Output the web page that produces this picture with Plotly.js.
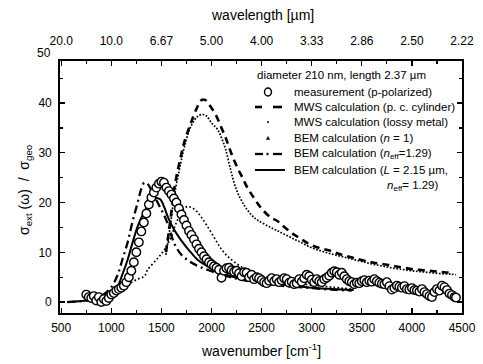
<!DOCTYPE html>
<html><head><meta charset="utf-8">
<script src="https://cdn.plot.ly/plotly-3.0.1.min.js"></script>
<style>html,body{margin:0;padding:0;background:#fff;}#c{width:483px;height:364px;}</style>
</head><body><div id="c"></div>
<script>
// ---- data ----
const measWn = [750,775,800,825,850,875,900,925,950,975,1000,1025,1050,1075,1100,1125,1150,1175,1200,1225,1250,1275,1300,1325,1350,1375,1400,1425,1450,1475,1500,1525,1550,1575,1600,1625,1650,1675,1700,1725,1750,1775,1800,1825,1850,1875,1900,1925,1950,1975,2000,2025,2050,2075,2100,2125,2150,2175,2200,2225,2250,2275,2300,2325,2350,2375,2400,2425,2450,2475,2500,2525,2550,2575,2600,2625,2650,2675,2700,2725,2750,2775,2800,2825,2850,2875,2900,2925,2950,2975,3000,3025,3050,3075,3100,3125,3150,3175,3200,3225,3250,3275,3300,3325,3350,3375,3400,3425,3450,3475,3500,3525,3550,3575,3600,3625,3650,3675,3700,3725,3750,3775,3800,3825,3850,3875,3900,3925,3950,3975,4000,4025,4050,4075,4100,4125,4150,4175,4200,4225,4250,4275,4300,4325,4350,4375,4400,4425,4440];
const measVal = [1.5,1.0,0.8,1.2,0.3,1.0,0.0,0.6,0.2,0.8,1.5,1.8,2.3,2.6,2.9,3.3,4.0,5.0,6.3,8.0,10.0,12.0,14.2,16.0,17.8,19.6,21.0,22.0,23.0,23.8,24.2,24.0,23.0,22.3,21.6,20.8,20.0,18.8,17.6,16.5,15.4,14.3,13.5,12.6,11.6,10.7,10.0,9.2,8.6,8.0,7.6,7.2,6.9,6.5,4.9,6.3,6.8,6.9,6.4,6.1,6.3,5.8,5.2,6.0,5.9,5.0,5.5,4.6,5.0,4.8,4.4,4.0,3.8,4.3,4.8,4.2,4.6,4.0,4.4,4.8,4.6,3.9,4.1,3.6,3.8,4.6,4.1,4.8,5.5,5.2,4.5,4.0,4.6,4.2,4.0,4.6,4.9,5.3,5.9,6.2,6.0,5.5,5.9,5.2,4.6,4.2,4.0,3.6,3.9,3.8,4.2,4.4,4.0,4.3,4.1,4.6,4.2,3.9,3.7,3.6,4.0,3.2,2.5,2.8,3.3,3.1,2.9,3.2,2.6,2.5,2.8,2.4,2.3,2.1,2.6,2.0,1.6,1.2,1.0,2.0,2.6,2.3,3.3,3.0,2.4,1.7,1.4,1.0,0.9];

const mwsPcWn  = [1545,1590,1630,1694,1727,1794,1861,1900,1940,1990,2043,2100,2142,2190,2259,2309,2358,2421,2491,2590,2657,2720,2820,2900,2989,3090,3188,3270,3354,3450,3554,3650,3753,3830,3916,4010,4115,4220,4320,4413];
const mwsPcVal = [10,16.5,23,29.3,32,36,39.3,40.6,40.6,39.3,37.6,35,33,30.3,27,25,23,21,19,17,16.3,15.2,13.6,12.6,11.5,10.8,10.3,9.7,9.2,8.7,8.2,7.8,7.5,7.2,6.9,6.6,6.4,6.2,6.0,5.9];

const mwsLmWn  = [1545,1590,1630,1694,1727,1794,1861,1910,1950,2000,2060,2100,2142,2192,2250,2325,2400,2458,2590,2690,2790,2890,2990,3090,3190,3290,3390,3490,3590,3690,3790,3890,3990,4090,4190,4290,4390,4440];
const mwsLmVal = [9.5,15.5,21.5,28,31,35.3,37.3,37.7,37.4,36,34.7,33,30.6,26.5,22.5,19.5,17.5,16.5,15,14,13,12,11,10.3,9.7,9.2,8.7,8.2,7.7,7.3,6.9,6.6,6.3,6.1,5.9,5.7,5.6,5.5];

const bemN1Wn  = [560,700,800,900,1000,1100,1164,1250,1330,1363,1463,1529,1595,1630,1661,1700,1740,1761,1800,1850,1893,1950,2026,2093,2160,2259,2350,2450,2550,2700,2850,3000,3200,3400];
const bemN1Val = [0,0.2,0.4,0.8,1.6,2.5,3.5,4.5,5.2,6.5,8.8,10.5,13,15,16.5,18.2,19,19.2,19,18.3,17.2,15.5,13,10.8,9.2,7.6,6.5,5.6,5,4.3,3.8,3.4,3,2.6];

const bemNeffWn  = [560,700,800,900,1000,1064,1110,1163,1210,1263,1300,1330,1360,1400,1462,1525,1562,1628,1700,1794,1893,2000,2100,2250,2400,2600,2800,3000,3200,3400];
const bemNeffVal = [0,0.2,0.5,1.2,3.0,5.5,8.5,12,16,20,22.8,24,23.8,22.5,20,17.5,15.8,11.8,9.5,8,7,6.2,5.5,4.7,4.1,3.5,3.1,2.8,2.5,2.3];

const bemLWn  = [560,700,800,900,1000,1064,1110,1163,1213,1263,1313,1363,1410,1450,1490,1530,1562,1620,1694,1780,1861,1940,2026,2110,2192,2300,2450,2600,2800,3000,3200,3420];
const bemLVal = [0,0.2,0.5,0.9,1.8,3.2,5.5,8.5,12,15.2,17.5,19.2,20.5,20.9,20.6,19,17.2,14.8,12.5,10.3,8.5,7.4,6.5,5.8,5.2,4.7,4.2,3.8,3.3,2.9,2.6,2.4];

const xTicks = [500,1000,1500,2000,2500,3000,3500,4000,4500];
const topTickText = ['20.0','10.0','6.67','5.00','4.00','3.33','2.86','2.50','2.22'];
const yTicks = [0,10,20,30,40];
const yTopLabel = 50;

const legendTitle = 'diameter 210 nm, length 2.37 µm';
const legendTexts = [
  'measurement (p-polarized)',
  'MWS calculation (p. c. cylinder)',
  'MWS calculation (lossy metal)',
  'BEM calculation (<i>n</i> = 1)',
  'BEM calculation (<i>n</i><sub>eff</sub>=1.29)',
  'BEM calculation (<i>L</i> = 2.15 µm,'
];
const legendText2 = '<i>n</i><sub>eff</sub>= 1.29)';

// ---- layout geometry (pixels) ----
const W = 483, H = 364;
const L = 60, R = 462, T = 61, B = 313;
const Y0 = -2.2, Y1 = 48.45;
const px = x => (x - L) / (R - L);
const py = y => (B - y) / (B - T);
const FONT = 'Liberation Sans, Arial, sans-serif';

const traces = [
  {x: bemN1Wn, y: bemN1Val, mode: 'lines', line: {color: '#000', width: 1.7, dash: '1.7px,2.3px', shape: 'spline'}},
  {x: mwsLmWn, y: mwsLmVal, mode: 'lines', line: {color: '#000', width: 1.7, dash: '1.7px,1.6px', shape: 'spline'}},
  {x: bemNeffWn, y: bemNeffVal, mode: 'lines', line: {color: '#000', width: 2.3, dash: '8px,4px,2px,4px', shape: 'spline'}},
  {x: mwsPcWn, y: mwsPcVal, mode: 'lines', line: {color: '#000', width: 2.6, dash: '7px,5px', shape: 'spline'}},
  {x: bemLWn, y: bemLVal, mode: 'lines', line: {color: '#000', width: 2, shape: 'spline'}},
  {x: measWn, y: measVal, mode: 'markers', marker: {symbol: 'circle', size: 8.5, color: '#fff', line: {color: '#000', width: 1.4}}},
  // invisible trace to activate the top (wavelength) axis
  {x: xTicks, y: xTicks.map(() => null), xaxis: 'x2', yaxis: 'y', mode: 'markers', hoverinfo: 'skip', showlegend: false}
];

const annotations = [];
const ann = (text, x, y, opts) => annotations.push(Object.assign({
  text, x: px(x), y: py(y), xref: 'paper', yref: 'paper', showarrow: false,
  xanchor: 'left', yanchor: 'middle', font: {family: FONT, size: 11.5, color: '#000'}
}, opts || {}));

const rows = [92, 107, 122, 138, 154, 170];
ann(legendTitle, 255, 75);
legendTexts.forEach((t, i) => ann(t, 292, rows[i]));
ann(legendText2, 385, 186);

// axis titles
ann('wavelength [µm]', 262, 15, {xanchor: 'center', font: {family: FONT, size: 14, color: '#000'}});
ann('wavenumber [cm<sup>-1</sup>]', 261, 350, {xanchor: 'center', font: {family: FONT, size: 14, color: '#000'}});
ann('σ<sub>ext</sub> (ω)  /  σ<sub>geo</sub>', 25, 190, {xanchor: 'center', textangle: -90, font: {family: FONT, size: 14, color: '#000'}});
// "50" label that sits above the frame in the original
annotations.push({text: String(yTopLabel), x: px(53), y: (yTopLabel - Y0) / (Y1 - Y0), xref: 'paper', yref: 'paper',
  xanchor: 'right', yanchor: 'middle', showarrow: false, font: {family: FONT, size: 12, color: '#000'}});

const shapes = [];
const seg = (x0, x1, y, w) => shapes.push({type: 'line', xref: 'paper', yref: 'paper', x0: px(x0), x1: px(x1), y0: py(y), y1: py(y), line: {color: '#000', width: w}});
// legend symbols
shapes.push({type: 'circle', xref: 'paper', yref: 'paper', x0: px(264.5), x1: px(271.5), y0: py(96), y1: py(88), line: {color: '#000', width: 1.4}, fillcolor: '#fff'});
seg(255, 262, 107, 2.6); seg(273, 282, 107, 2.6);
shapes.push({type: 'circle', xref: 'paper', yref: 'paper', x0: px(267), x1: px(269), y0: py(123), y1: py(121), line: {width: 0}, fillcolor: '#000'});
shapes.push({type: 'path', xref: 'paper', yref: 'paper', path: `M ${px(266.3)} ${py(139.5)} L ${px(269.7)} ${py(139.5)} L ${px(268)} ${py(136.5)} Z`, line: {width: 0.5, color: '#000'}, fillcolor: '#000'});
seg(255, 263, 154, 2.3); seg(266.5, 268.5, 154, 2.3); seg(273, 282, 154, 2.3);
seg(255, 285, 170, 2);

const axisCommon = {
  showgrid: false, zeroline: false, showline: true, linecolor: '#000', linewidth: 1.8,
  ticks: 'inside', ticklen: 5, tickwidth: 1.2, tickcolor: '#000',
  tickfont: {family: FONT, size: 12, color: '#000'}
};

const layout = {
  width: W, height: H,
  margin: {l: L, r: W - R, t: T, b: H - B, pad: 0},
  paper_bgcolor: '#fff', plot_bgcolor: '#fff',
  showlegend: false,
  xaxis: Object.assign({}, axisCommon, {
    range: [488, 4500], tickmode: 'array', tickvals: xTicks, ticklabelstandoff: 3,
    minor: {dtick: 250, tick0: 500, ticks: 'inside', ticklen: 3, tickwidth: 1.2, tickcolor: '#000'}
  }),
  xaxis2: Object.assign({}, axisCommon, {
    overlaying: 'x', side: 'top', matches: 'x', range: [488, 4500],
    tickmode: 'array', tickvals: xTicks, ticktext: topTickText, ticklabelstandoff: 9,
    minor: {dtick: 250, tick0: 500, ticks: 'inside', ticklen: 3, tickwidth: 1.2, tickcolor: '#000'}
  }),
  yaxis: Object.assign({}, axisCommon, {
    range: [Y0, Y1], tickmode: 'array', tickvals: yTicks, mirror: 'ticks', ticklabelstandoff: 4,
    minor: {dtick: 5, tick0: 0, ticks: 'inside', ticklen: 3, tickwidth: 1.2, tickcolor: '#000'}
  }),
  annotations, shapes,
  font: {family: FONT, color: '#000'}
};

Plotly.newPlot('c', traces, layout, {staticPlot: true, displayModeBar: false});
</script></body></html>
